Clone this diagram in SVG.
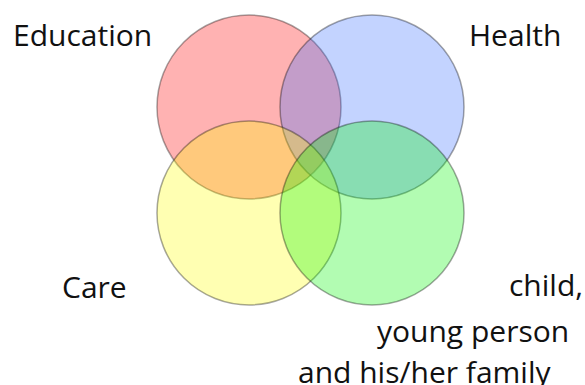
<svg xmlns="http://www.w3.org/2000/svg" width="585" height="385" viewBox="0 0 585 385">
<style>
.c{fill-opacity:0.3;stroke:#000;stroke-opacity:0.35;stroke-width:1.5}
.t{font-family:"Open Sans","Noto Sans",sans-serif;font-size:30px;fill:#111}
</style>
<rect width="585" height="385" fill="#fff"/>
<g id="education"><circle class="c" cx="249" cy="107" r="92" fill="#ff0000"/></g>
<g id="health"><circle class="c" cx="372" cy="107" r="92" fill="#376cff"/></g>
<g id="care"><circle class="c" cx="249" cy="213" r="92" fill="#ffff00"/></g>
<g id="child"><circle class="c" cx="372" cy="213" r="92" fill="#00f500"/></g>
<g id="connectors"></g>
<g id="labels">
<text class="t" x="13" y="46">Education</text>
<text class="t" x="469" y="46">Health</text>
<text class="t" x="62" y="298">Care</text>
<text class="t" x="509" y="296">child,</text>
<text class="t" x="377" y="342">young person</text>
<text class="t" x="298" y="383">and his/her family</text>
</g>
</svg>
